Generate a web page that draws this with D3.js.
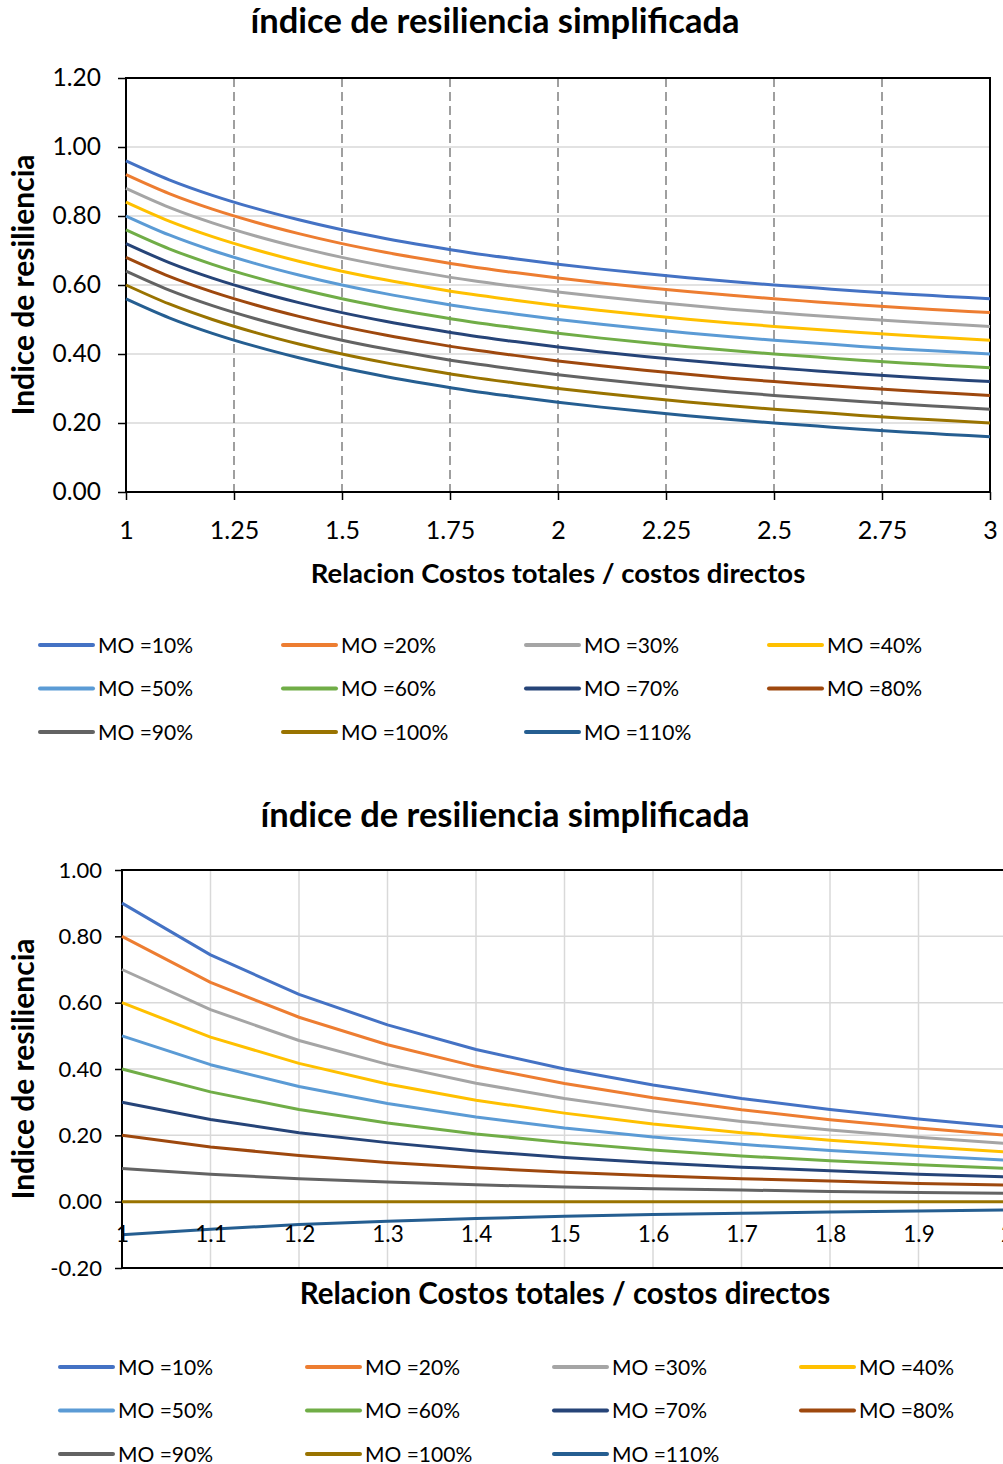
<!DOCTYPE html>
<html>
<head>
<meta charset="utf-8">
<script src="https://cdn.jsdelivr.net/npm/d3@7"></script>
<style>
  body { margin: 0; background: #fff; }
  text { font-family: Lato, "Open Sans", sans-serif; fill: #000; }
</style>
</head>
<body>
<svg id="chart" width="1003" height="1464"></svg>
<script>
// ---- shared ----
const seriesNames = ["MO =10%", "MO =20%", "MO =30%", "MO =40%", "MO =50%", "MO =60%",
                     "MO =70%", "MO =80%", "MO =90%", "MO =100%", "MO =110%"];
const seriesColors = ["#4472C4", "#ED7D31", "#A5A5A5", "#FFC000", "#5B9BD5", "#70AD47",
                      "#264478", "#9E480E", "#636363", "#997300", "#255E91"];
const chartTitle = "índice de resiliencia simplificada";
const yTitle = "Indice de resiliencia";
const xTitle = "Relacion Costos totales / costos directos";

// ---- upper chart: ratio 1 → 3 ----
const topX = [1.0, 1.1, 1.2, 1.3, 1.4, 1.5, 1.6, 1.7, 1.8, 1.9, 2.0,
              2.1, 2.2, 2.3, 2.4, 2.5, 2.6, 2.7, 2.8, 2.9, 3.0];
const topValues = [
  [0.960,0.905,0.860,0.822,0.789,0.760,0.735,0.713,0.693,0.676,0.660,0.646,0.633,0.621,0.610,0.600,0.591,0.582,0.574,0.567,0.560],
  [0.920,0.865,0.820,0.782,0.749,0.720,0.695,0.673,0.653,0.636,0.620,0.606,0.593,0.581,0.570,0.560,0.551,0.542,0.534,0.527,0.520],
  [0.880,0.825,0.780,0.742,0.709,0.680,0.655,0.633,0.613,0.596,0.580,0.566,0.553,0.541,0.530,0.520,0.511,0.502,0.494,0.487,0.480],
  [0.840,0.785,0.740,0.702,0.669,0.640,0.615,0.593,0.573,0.556,0.540,0.526,0.513,0.501,0.490,0.480,0.471,0.462,0.454,0.447,0.440],
  [0.800,0.745,0.700,0.662,0.629,0.600,0.575,0.553,0.533,0.516,0.500,0.486,0.473,0.461,0.450,0.440,0.431,0.422,0.414,0.407,0.400],
  [0.760,0.705,0.660,0.622,0.589,0.560,0.535,0.513,0.493,0.476,0.460,0.446,0.433,0.421,0.410,0.400,0.391,0.382,0.374,0.367,0.360],
  [0.720,0.665,0.620,0.582,0.549,0.520,0.495,0.473,0.453,0.436,0.420,0.406,0.393,0.381,0.370,0.360,0.351,0.342,0.334,0.327,0.320],
  [0.680,0.625,0.580,0.542,0.509,0.480,0.455,0.433,0.413,0.396,0.380,0.366,0.353,0.341,0.330,0.320,0.311,0.302,0.294,0.287,0.280],
  [0.640,0.585,0.540,0.502,0.469,0.440,0.415,0.393,0.373,0.356,0.340,0.326,0.313,0.301,0.290,0.280,0.271,0.262,0.254,0.247,0.240],
  [0.600,0.545,0.500,0.462,0.429,0.400,0.375,0.353,0.333,0.316,0.300,0.286,0.273,0.261,0.250,0.240,0.231,0.222,0.214,0.207,0.200],
  [0.560,0.505,0.460,0.422,0.389,0.360,0.335,0.313,0.293,0.276,0.260,0.246,0.233,0.221,0.210,0.200,0.191,0.182,0.174,0.167,0.160]
];
const topXTicks = [1, 1.25, 1.5, 1.75, 2, 2.25, 2.5, 2.75, 3];
const topYTicks = [0, 0.2, 0.4, 0.6, 0.8, 1.0, 1.2];

// ---- lower chart: ratio 1 → 2 ----
const bottomX = [1.0, 1.1, 1.2, 1.3, 1.4, 1.5, 1.6, 1.7, 1.8, 1.9, 2.0];
const bottomValues = [
  [0.900,0.744,0.625,0.533,0.459,0.400,0.352,0.311,0.278,0.249,0.225],
  [0.800,0.661,0.556,0.473,0.408,0.356,0.313,0.277,0.247,0.222,0.200],
  [0.700,0.579,0.486,0.414,0.357,0.311,0.273,0.242,0.216,0.194,0.175],
  [0.600,0.496,0.417,0.355,0.306,0.267,0.234,0.208,0.185,0.166,0.150],
  [0.500,0.413,0.347,0.296,0.255,0.222,0.195,0.173,0.154,0.139,0.125],
  [0.400,0.331,0.278,0.237,0.204,0.178,0.156,0.138,0.123,0.111,0.100],
  [0.300,0.248,0.208,0.178,0.153,0.133,0.117,0.104,0.093,0.083,0.075],
  [0.200,0.165,0.139,0.118,0.102,0.089,0.078,0.069,0.062,0.055,0.050],
  [0.100,0.083,0.069,0.059,0.051,0.044,0.039,0.035,0.031,0.028,0.025],
  [0.000,0.000,0.000,0.000,0.000,0.000,0.000,0.000,0.000,0.000,0.000],
  [-0.100,-0.083,-0.069,-0.059,-0.051,-0.044,-0.039,-0.035,-0.031,-0.028,-0.025]
];
const bottomXTicks = [1, 1.1, 1.2, 1.3, 1.4, 1.5, 1.6, 1.7, 1.8, 1.9, 2];
const bottomYTicks = [-0.2, 0, 0.2, 0.4, 0.6, 0.8, 1.0];

const svg = d3.select("#chart");
const fmt2raw = d3.format(".2f");
const fmt2 = d => fmt2raw(d).replace("\u2212", "-");

function drawChart(cfg) {
  const g = svg.append("g");
  const x = d3.scaleLinear().domain(cfg.xDomain).range([cfg.left, cfg.right]);
  const y = d3.scaleLinear().domain(cfg.yDomain).range([cfg.bottom, cfg.top]);

  // title
  g.append("text").attr("x", cfg.titleX).attr("y", cfg.titleY)
    .attr("text-anchor", "middle").attr("font-weight", 700)
    .attr("font-size", cfg.titleSize).text(chartTitle);

  // horizontal grid
  g.append("g").selectAll("line").data(cfg.yTicks).join("line")
    .attr("x1", cfg.left).attr("x2", cfg.right)
    .attr("y1", d => y(d)).attr("y2", d => y(d))
    .attr("stroke", "#D9D9D9").attr("stroke-width", 1.5);

  // vertical grid
  g.append("g").selectAll("line").data(cfg.vGrid).join("line")
    .attr("x1", d => x(d)).attr("x2", d => x(d))
    .attr("y1", cfg.top).attr("y2", cfg.bottom)
    .attr("stroke", cfg.vGridColor).attr("stroke-width", 1.5)
    .attr("stroke-dasharray", cfg.vGridDash);

  // y axis
  const yAxis = g.append("g").attr("transform", `translate(${cfg.left},0)`)
    .call(d3.axisLeft(y).tickValues(cfg.yTicks).tickFormat(fmt2)
      .tickSize(cfg.yTickLen).tickPadding(cfg.yTickPad));
  yAxis.select(".domain").remove();
  yAxis.selectAll(".tick line").attr("stroke", "#000").attr("stroke-width", 1.5);
  yAxis.selectAll(".tick text").attr("font-size", cfg.yTickSize).attr("font-family", "Lato, sans-serif").attr("fill", "#000");

  // x axis
  const xAxis = g.append("g").attr("transform", `translate(0,${cfg.xAxisY})`)
    .call(d3.axisBottom(x).tickValues(cfg.xTicks).tickFormat(d => String(d))
      .tickSize(cfg.xTickLen).tickPadding(cfg.xTickPad));
  xAxis.select(".domain").remove();
  xAxis.selectAll(".tick line").attr("stroke", "#000").attr("stroke-width", 1.5);
  xAxis.selectAll(".tick text").attr("font-size", cfg.xTickSize).attr("font-family", "Lato, sans-serif").attr("fill", "#000");

  // plot border
  g.append("rect").attr("x", cfg.left).attr("y", cfg.top)
    .attr("width", cfg.right - cfg.left).attr("height", cfg.bottom - cfg.top)
    .attr("fill", "none").attr("stroke", "#000").attr("stroke-width", 2);
  if (cfg.zeroLine) {
    g.append("line").attr("x1", cfg.left).attr("x2", cfg.right)
      .attr("y1", y(0)).attr("y2", y(0)).attr("stroke", "#000").attr("stroke-width", 1.5);
  }

  // series
  const line = d3.line().x((d, i) => x(cfg.xs[i])).y(d => y(d)).curve(cfg.curve);
  g.append("g").selectAll("path").data(cfg.values).join("path")
    .attr("d", d => line(d)).attr("fill", "none")
    .attr("stroke", (d, i) => seriesColors[i]).attr("stroke-width", 3)
    .attr("stroke-linejoin", "round");

  // x tick labels sit above the series in the lower chart
  if (cfg.labelsOnTop) xAxis.raise();

  // axis titles
  g.append("text").attr("transform", `translate(${cfg.yTitleX},${(cfg.top + cfg.bottom) / 2}) rotate(-90)`)
    .attr("text-anchor", "middle").attr("font-weight", 700)
    .attr("font-size", cfg.axisTitleSize).text(yTitle);
  g.append("text").attr("x", cfg.xTitleX).attr("y", cfg.xTitleY)
    .attr("text-anchor", "middle").attr("font-weight", 700)
    .attr("font-size", cfg.xTitleSize).text(xTitle);

  // legend: 4 columns
  const leg = g.append("g").selectAll("g").data(seriesNames).join("g")
    .attr("transform", (d, i) => `translate(${cfg.legX + (i % 4) * cfg.legDX},${cfg.legY + Math.floor(i / 4) * cfg.legDY})`);
  leg.append("line").attr("x1", 0).attr("x2", 53).attr("y1", 0).attr("y2", 0)
    .attr("stroke", (d, i) => seriesColors[i]).attr("stroke-width", 4).attr("stroke-linecap", "round");
  leg.append("text").attr("x", 58).attr("y", 0).attr("dy", "0.36em")
    .attr("font-size", cfg.legSize).text(d => d);
}

drawChart({
  xDomain: [1, 3], yDomain: [0, 1.2],
  left: 126, right: 990, top: 78, bottom: 492,
  xs: topX, values: topValues, curve: d3.curveMonotoneX,
  xTicks: topXTicks, yTicks: topYTicks,
  vGrid: topXTicks.slice(1, -1), vGridColor: "#808080", vGridDash: "9,5",
  xAxisY: 492, xTickLen: 8, xTickPad: 21, xTickSize: 25,
  yTickLen: 8, yTickPad: 17, yTickSize: 24.5,
  titleX: 495, titleY: 33, titleSize: 34.5,
  yTitleX: 34, axisTitleSize: 30,
  xTitleX: 558, xTitleY: 583, xTitleSize: 27.5,
  legX: 40, legY: 645, legDX: 243, legDY: 43.5, legSize: 21
});

drawChart({
  xDomain: [1, 2], yDomain: [-0.2, 1.0],
  left: 122, right: 1007, top: 870, bottom: 1268,
  xs: bottomX, values: bottomValues, curve: d3.curveLinear,
  xTicks: bottomXTicks, yTicks: bottomYTicks,
  vGrid: bottomXTicks.slice(1, -1), vGridColor: "#D9D9D9", vGridDash: null,
  xAxisY: 1202, xTickLen: 0, xTickPad: 24, xTickSize: 22.5,
  yTickLen: 7, yTickPad: 13, yTickSize: 22,
  zeroLine: true, labelsOnTop: true,
  titleX: 505, titleY: 827, titleSize: 34.5,
  yTitleX: 34, axisTitleSize: 30,
  xTitleX: 565, xTitleY: 1304, xTitleSize: 29.5,
  legX: 60, legY: 1367, legDX: 247, legDY: 43.5, legSize: 21
});
</script>
</body>
</html>
